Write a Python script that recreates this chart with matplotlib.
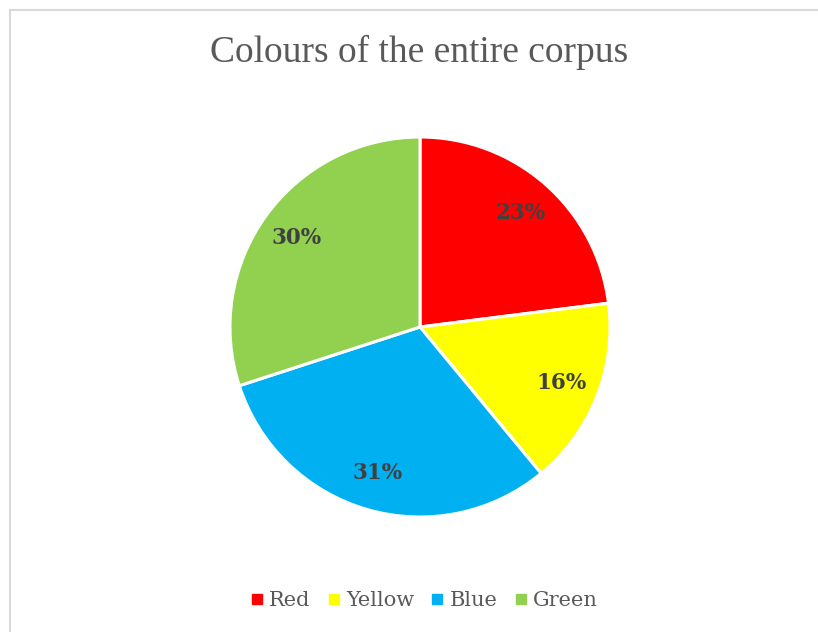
import matplotlib
matplotlib.use("Agg")
import matplotlib.pyplot as plt
from matplotlib.lines import Line2D

# Share of each colour across the corpus (percent)
categories = ["Red", "Yellow", "Blue", "Green"]
shares = [23, 16, 31, 30]
colours = ["#FF0000", "#FFFF00", "#00B0F0", "#92D050"]
title = "Colours of the entire corpus"

W, H = 818, 632
fig = plt.figure(figsize=(W / 100, H / 100), dpi=100)
fig.patch.set_facecolor("white")

# Chart-area frame (left and top edges visible)
fig.add_artist(Line2D([9.5 / W, 9.5 / W], [0, 1 - 9.5 / H], transform=fig.transFigure,
                      color="#D9D9D9", lw=1.5))
fig.add_artist(Line2D([9.5 / W, 1], [1 - 9.5 / H, 1 - 9.5 / H], transform=fig.transFigure,
                      color="#D9D9D9", lw=1.5))

cx, cy, r = 420, 327, 190
ax = fig.add_axes([(cx - r) / W, (H - cy - r) / H, 2 * r / W, 2 * r / H])
wedges, texts, autotexts = ax.pie(
    shares, colors=colours, startangle=90, counterclock=False,
    autopct=lambda p: f"{p:.0f}%", pctdistance=0.8,
    wedgeprops=dict(edgecolor="white", linewidth=2.2),
    textprops=dict(family="DejaVu Serif", fontsize=15.5, fontweight="bold", color="#404040"),
)
ax.set_xlim(-1.0, 1.0)
ax.set_ylim(-1.0, 1.0)
ax.set_aspect("equal")
ax.axis("off")

fig.text(419 / W, 1 - 52 / H, title, ha="center", va="center",
         family="Liberation Serif", fontsize=27, color="#595959")

handles = [Line2D([], [], marker="s", linestyle="none", markersize=6.5,
                  markerfacecolor=c, markeredgecolor=c) for c in colours]
fig.legend(handles, categories, loc="center", bbox_to_anchor=(425 / W, 1 - 601 / H),
           ncol=4, frameon=False, handlelength=0.45, handletextpad=0.35,
           columnspacing=0.9, borderpad=0, prop=dict(family="DejaVu Serif", size=15),
           labelcolor="#595959")

fig.savefig("out.png", dpi=100)
